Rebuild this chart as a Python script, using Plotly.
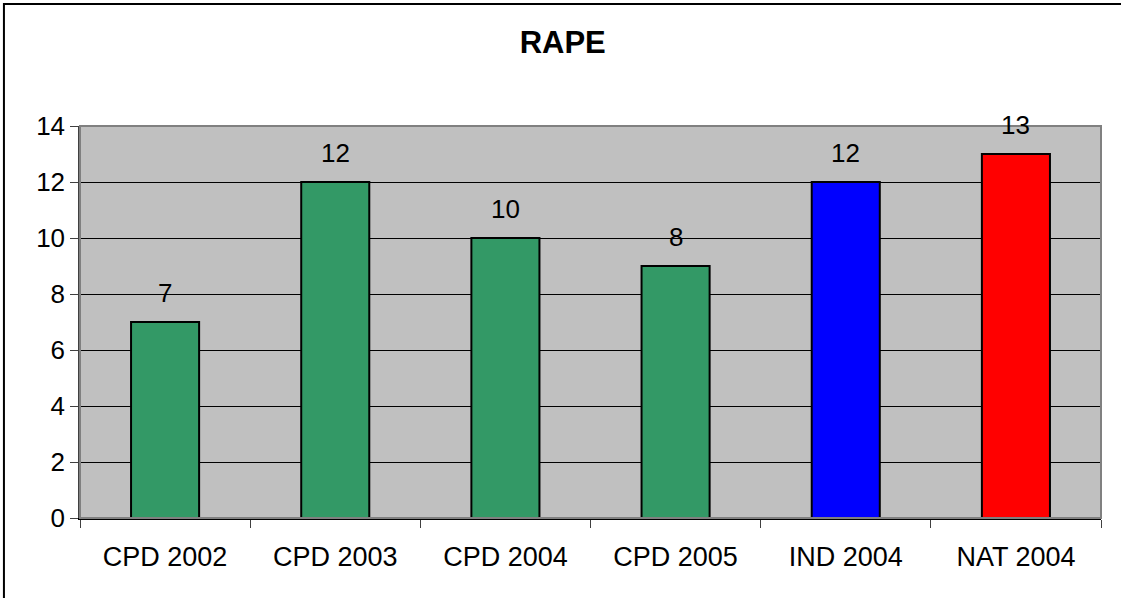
import plotly.graph_objects as go

# ── Data ────────────────────────────────────────────────────────────────────
categories = ["CPD 2002", "CPD 2003", "CPD 2004", "CPD 2005", "IND 2004", "NAT 2004"]
values     = [7, 12, 10, 9, 12, 13]
labels     = ["7", "12", "10", "8", "12", "13"]
bar_colors = ["#339966", "#339966", "#339966", "#339966", "#0000FF", "#FF0000"]

FONT = "Arial, Liberation Sans, sans-serif"

fig = go.Figure()

fig.add_trace(go.Bar(
    x=categories, y=values,
    marker=dict(color=bar_colors, line=dict(color="#000000", width=2)),
    width=0.4,
    showlegend=False, hoverinfo="skip",
))

# value labels above bars
for cat, val, lab in zip(categories, values, labels):
    fig.add_annotation(
        x=cat, y=val, text=lab, showarrow=False,
        yanchor="middle", yshift=29,
        font=dict(family=FONT, size=26, color="#000000"),
    )

# plot-area frame (grey top / right)
fig.add_shape(
    type="rect", xref="paper", yref="paper",
    x0=0, x1=1, y0=0, y1=1,
    line=dict(color="#808080", width=2),
)
# outer chart border: only left and top edges fall inside the picture
fig.add_shape(
    type="path", xref="paper", yref="paper",
    path="M -0.0745,-0.6 L -0.0745,1.311 L 1.5,1.311",
    line=dict(color="#000000", width=2),
)

fig.update_layout(
    width=1121, height=598,
    margin=dict(l=80, r=20, t=126, b=80),
    paper_bgcolor="#FFFFFF",
    plot_bgcolor="#C0C0C0",
    font=dict(family=FONT, size=27, color="#000000"),
    title=dict(
        text="<b>RAPE</b>", x=0.502, xanchor="center",
        y=1 - 42 / 598, yanchor="middle", yref="container",
        font=dict(family=FONT, size=31, color="#000000"),
    ),
    xaxis=dict(
        tickson="boundaries", ticks="outside", ticklen=8, tickcolor="#404040",
        showline=True, linecolor="#000000", linewidth=1.5,
        showgrid=False, tickfont=dict(size=27), ticklabelstandoff=14,
    ),
    yaxis=dict(
        range=[0, 14], dtick=2, ticks="outside", ticklen=8, tickcolor="#404040",
        showline=True, linecolor="#404040", linewidth=1.5,
        showgrid=True, gridcolor="#000000", gridwidth=1,
        zeroline=False, tickfont=dict(size=26),
    ),
    bargap=0.6,
)

fig.write_html(
    "out.html",
    config={"displayModeBar": False},
    post_script="document.body.style.margin='0'; document.body.style.overflow='hidden';",
)
